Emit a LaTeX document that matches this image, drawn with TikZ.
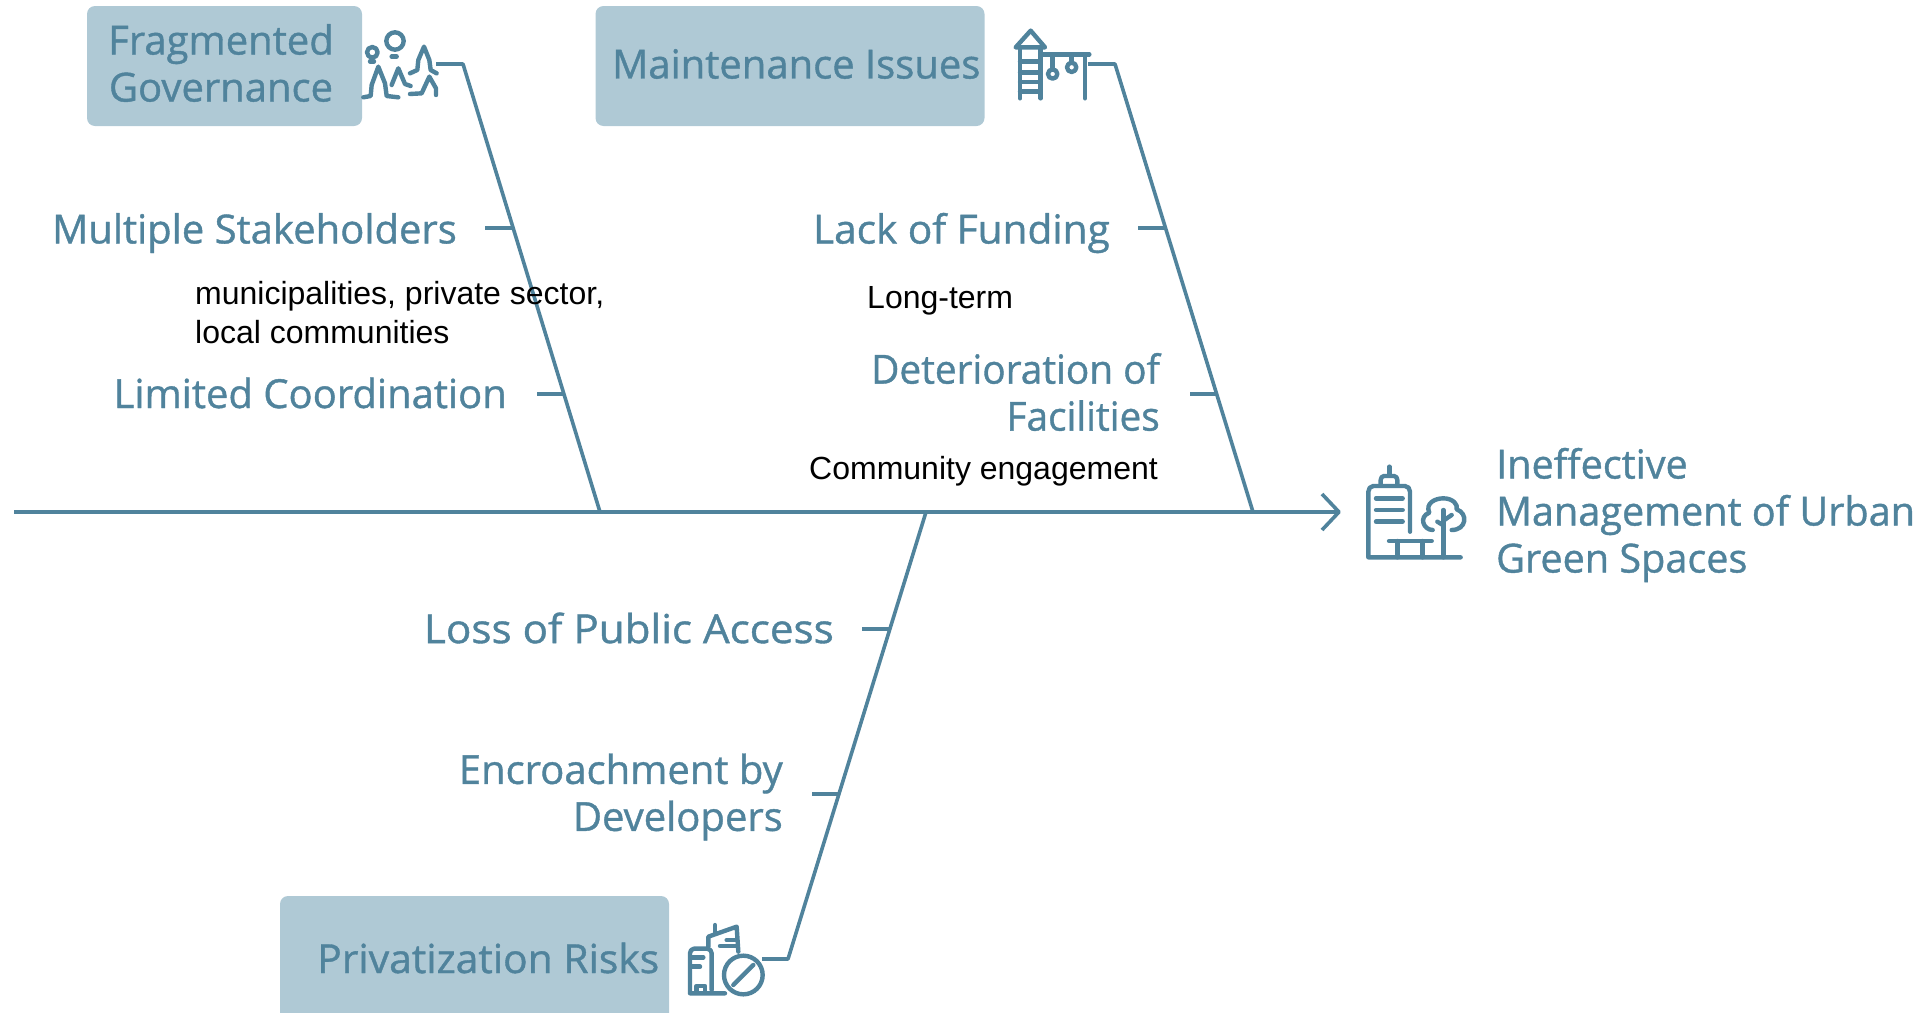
\documentclass[tikz,border=0pt]{standalone}
\usepackage{fontspec}
\setmainfont{Open Sans}
\newfontfamily\factorfont[FakeBold=1]{Open Sans}
\newfontfamily\notefont{Liberation Sans}
\definecolor{bone}{HTML}{50839C}
\definecolor{cause}{HTML}{AFC9D5}
\tikzset{bonepath/.style={draw=bone, line width=3.6pt, line join=round},
iconpath/.style={draw=bone, line width=4.4pt, line cap=round, line join=round},
causebox/.style={fill=cause, rounded corners=8pt, minimum width=#1, minimum height=120pt, inner sep=0pt},
factor/.style={text=bone, font=\factorfont\fontsize{40}{47}\selectfont, inner sep=0pt},
note/.style={text=black, font=\notefont\fontsize{32}{39}\selectfont, inner sep=0pt, anchor=west, align=left}}

\begin{document}
\begin{tikzpicture}[x=1pt,y=-1pt]
	\useasboundingbox (0,0) rectangle (1926,1012);
	% cause boxes
	\node[causebox=275pt] (governancebox) at (224.5,66) {};
	\node[causebox=389pt] (maintenancebox) at (790,66) {};
	\node[causebox=389pt, minimum height=136pt] (privatebox) at (474.5,964) {};
	\node[factor, align=center] (governance) at (221,63) {Fragmented\\Governance};
	\node[factor, anchor=west] (maintenance) at (612,64) {Maintenance Issues};
	\node[factor, anchor=west, xscale=1.02] (private) at (317,958) {Privatization Risks};
	% spine and bones
	\coordinate (tail) at (14,512);
	\coordinate (head) at (1339,512);
	\coordinate (joina) at (600,512);
	\coordinate (joinb) at (1253,512);
	\coordinate (joinc) at (926,512);
	\coordinate (topa) at (436,64);
	\coordinate (kneea) at (463,64);
	\coordinate (topb) at (1088,64);
	\coordinate (kneeb) at (1115,64);
	\coordinate (topc) at (762,959);
	\coordinate (kneec) at (788,959);
	\draw[bonepath] (tail) -- (head);
	\draw[bonepath] (1322,494) -- (head) -- (1322,530);
	\draw[bonepath] (topa) -- (kneea) -- (joina);
	\draw[bonepath] (topb) -- (kneeb) -- (joinb);
	\draw[bonepath] (topc) -- (kneec) -- (joinc);
	% factors
	\node[factor, anchor=east] (stakeholders) at (457,233) {Multiple Stakeholders};
	\node[factor, anchor=east] (coordination) at (507,393) {Limited Coordination};
	\node[factor, anchor=east, xscale=1.015] (funding) at (1110,233) {Lack of Funding};
	\node[factor, anchor=east, align=right, xscale=0.97] (facilities) at (1160,392) {Deterioration of\\Facilities};
	\node[factor, anchor=east, xscale=1.055] (access) at (834,628) {Loss of Public Access};
	\node[factor, anchor=east, align=right] (developers) at (783,797) {Encroachment by\\Developers};
	\node[factor, anchor=west, align=left, xscale=0.99] (effect) at (1496,515) {Ineffective\\Management of Urban\\Green Spaces};
	% ribs
	\coordinate (riba) at (513,228);
	\coordinate (ribb) at (564,394);
	\coordinate (ribc) at (1165,228);
	\coordinate (ribd) at (1217,394);
	\coordinate (ribe) at (889,629);
	\coordinate (ribf) at (840,794);
	\draw[bonepath] (485,228) -- (riba);
	\draw[bonepath] (537,394) -- (ribb);
	\draw[bonepath] (1138,228) -- (ribc);
	\draw[bonepath] (1190,394) -- (ribd);
	\draw[bonepath] (862,629) -- (ribe);
	\draw[bonepath] (812,794) -- (ribf);
	% black notes
	\node[note] (stakenote) at (195,313) {municipalities, private sector,\\local communities};
	\node[note] (fundnote) at (867,301) {Long-term};
	\node[note] (facilnote) at (809,471) {Community engagement};
	% people and trees
	\begin{scope}[shift={(340,10)}, x=0.3333pt, y=-0.3333pt]
		\draw[iconpath] (165,93) circle (26);
		\draw[iconpath] (97,127) circle (16);
		\draw[iconpath] (155,140) -- (170,140);
		\draw[iconpath] (90,154) -- (102,154);
		\draw[iconpath] (70,262) -- (92,258) -- (95,225) -- (115,170) -- (135,220) -- (140,258) -- (175,262);
		\draw[iconpath] (155,225) -- (175,175) -- (195,222) -- (212,228);
		\draw[iconpath] (210,190) -- (232,180) -- (235,150) -- (252,110) -- (268,150) -- (272,180) -- (290,190);
		\draw[iconpath] (210,252) -- (245,250) -- (268,200) -- (288,235) -- (288,255);
	\end{scope}
	% playground
	\begin{scope}[shift={(1000,10)}, x=0.3333pt, y=-0.3333pt]
		\draw[iconpath] (47,112) -- (92,62) -- (135,112) -- cycle;
		\draw[iconpath] (60,112) -- (60,265);
		\draw[iconpath] (122,112) -- (122,265);
		\draw[iconpath] (60,155) -- (122,155);
		\draw[iconpath] (60,187) -- (122,187);
		\draw[iconpath] (60,216) -- (122,216);
		\draw[iconpath] (60,245) -- (122,245);
		\draw[iconpath] (130,133) -- (268,133);
		\draw[iconpath] (255,133) -- (255,265);
		\draw[iconpath] (158,133) -- (158,178);
		\draw[iconpath] (158,192) circle (14);
		\draw[iconpath] (215,133) -- (215,158);
		\draw[iconpath] (215,172) circle (14);
	\end{scope}
	% building and tree
	\begin{scope}[shift={(1340,450)}, x=0.3333pt, y=-0.3333pt]
		\draw[iconpath] (210,245) -- (210,125) to[out=90,in=0] (195,108) -- (100,108) to[out=180,in=90] (85,125) -- (85,322) -- (362,322);
		\draw[iconpath] (122,105) -- (122,90) to[out=90,in=180] (132,78) -- (162,78) to[out=0,in=90] (172,90) -- (172,105);
		\draw[iconpath] (148,50) -- (148,76);
		\draw[iconpath] (108,145) -- (188,145);
		\draw[iconpath] (108,180) -- (188,180);
		\draw[iconpath] (108,215) -- (188,215);
		\draw[iconpath] (147,273) -- (275,273);
		\draw[iconpath] (172,273) -- (172,322);
		\draw[iconpath] (248,273) -- (248,322);
		\draw[iconpath] (310,180) -- (310,322);
		\draw[iconpath] (292,215) -- (310,226);
		\draw[iconpath] (335,195) -- (310,212);
		\draw[iconpath] (278,240) .. controls (250,240) and (235,200) .. (268,188) .. controls (255,160) and (285,145) .. (310,145) .. controls (340,145) and (355,165) .. (350,178) .. controls (385,190) and (380,240) .. (335,240);
	\end{scope}
	% buildings and no sign
	\begin{scope}[shift={(670,910)}, x=0.3333pt, y=-0.3333pt]
		\draw[iconpath] (125,240) -- (125,130) to[out=90,in=0] (112,116) -- (72,116) to[out=180,in=90] (60,130) -- (60,250) -- (165,250);
		\draw[iconpath] (80,248) -- (80,228) -- (105,228) -- (105,248);
		\draw[iconpath] (62,142) -- (100,142);
		\draw[iconpath] (62,170) -- (90,170);
		\draw[iconpath] (115,110) -- (115,80) -- (200,50) -- (205,125);
		\draw[iconpath] (135,45) -- (135,70);
		\draw[iconpath] (150,108) -- (200,108);
		\draw[iconpath] (170,90) -- (200,90);
		\draw[iconpath] (220,195) circle (58);
		\draw[iconpath] (190,225) -- (250,165);
	\end{scope}
\end{tikzpicture}
\end{document}
